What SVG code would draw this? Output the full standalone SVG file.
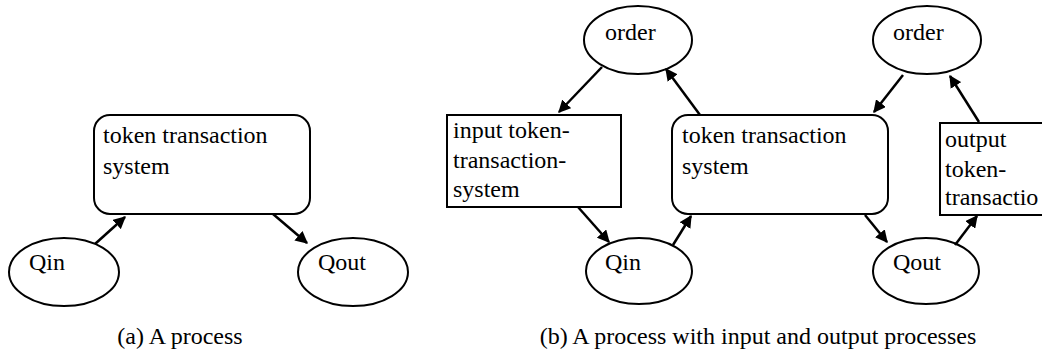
<svg xmlns="http://www.w3.org/2000/svg" width="1042" height="356" viewBox="0 0 1042 356">
<style>
.n{fill:#fff;stroke:#000;stroke-width:2}
.t{font-family:"Liberation Serif","Times New Roman",serif;font-size:24px;fill:#000}
.e{stroke:#000;stroke-width:2.5;fill:none;marker-end:url(#ah)}
</style>
<defs>
<marker id="ah" viewBox="0 0 10 10" refX="9" refY="5" markerWidth="5" markerHeight="5" orient="auto" markerUnits="strokeWidth">
<path d="M0,0 L10,5 L0,10 z" fill="#000"/>
</marker>
</defs>
<g id="a-tts"><rect class="n" x="94" y="115" width="216" height="99" rx="16"/><text class="t" x="103" y="143">token transaction</text><text class="t" x="103" y="174">system</text></g>
<g id="a-qin"><ellipse class="n" cx="64" cy="272" rx="55" ry="34"/><text class="t" x="29" y="270">Qin</text></g>
<g id="a-qout"><ellipse class="n" cx="353" cy="272" rx="55" ry="34"/><text class="t" x="318" y="270">Qout</text></g>
<g id="b-order1"><ellipse class="n" cx="638" cy="40" rx="54" ry="34"/><text class="t" x="605" y="40">order</text></g>
<g id="b-input"><rect class="n" x="447" y="115" width="174" height="92"/><text class="t" x="453" y="138">input token-</text><text class="t" x="453" y="168">transaction-</text><text class="t" x="453" y="197">system</text></g>
<g id="b-qin"><ellipse class="n" cx="639" cy="271" rx="53" ry="33"/><text class="t" x="605" y="270">Qin</text></g>
<g id="b-tts"><rect class="n" x="672" y="115" width="216" height="99" rx="16"/><text class="t" x="682" y="143">token transaction</text><text class="t" x="682" y="174">system</text></g>
<g id="b-order2"><ellipse class="n" cx="927" cy="40" rx="54" ry="34"/><text class="t" x="893" y="40">order</text></g>
<g id="b-qout"><ellipse class="n" cx="926" cy="271" rx="53" ry="33"/><text class="t" x="893" y="270">Qout</text></g>
<g id="b-output"><rect class="n" x="940" y="123" width="110" height="92"/><text class="t" x="945" y="147">output</text><text class="t" x="945" y="177">token-</text><text class="t" x="945" y="205">transactio</text></g>
<g id="connectors">
<line class="e" x1="95" y1="244" x2="125" y2="217"/>
<line class="e" x1="273" y1="214" x2="307" y2="243"/>
<line class="e" x1="602" y1="67" x2="559" y2="112"/>
<line class="e" x1="578" y1="207" x2="609" y2="242"/>
<line class="e" x1="673" y1="245" x2="691" y2="216"/>
<line class="e" x1="700" y1="115" x2="666" y2="69"/>
<line class="e" x1="903" y1="75" x2="874" y2="112"/>
<line class="e" x1="865" y1="215" x2="887" y2="242"/>
<line class="e" x1="955" y1="245" x2="977" y2="216"/>
<line class="e" x1="979" y1="122" x2="950" y2="76"/>
</g>
<g id="captions">
<text class="t" x="180" y="344" text-anchor="middle">(a) A process</text>
<text class="t" x="758" y="344" text-anchor="middle">(b) A process with input and output processes</text>
</g>
</svg>
